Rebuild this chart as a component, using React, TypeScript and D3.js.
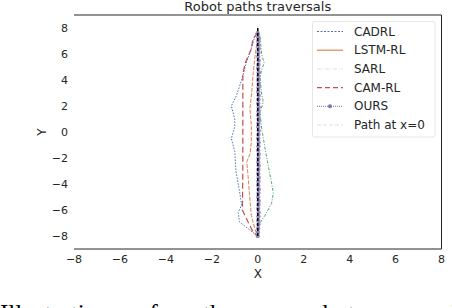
import React from 'react';
import * as d3 from 'd3';

type Pt = [number, number];

const cadrl: Pt[] = [[0, 7.8], [-0.1, 7.5], [-0.3, 6.3], [-0.5, 5.3], [-0.7, 4.0], [-0.95, 2.7], [-1.15, 2.0], [-1.0, 1.0], [-1.0, 0.4], [-1.15, -0.5], [-1.0, -1.5], [-0.95, -3.0], [-0.8, -4.5], [-0.7, -5.6], [-0.85, -6.2], [-0.8, -6.9], [-0.3, -7.6], [0, -8.0]];
const lstmRl: Pt[] = [[0, 7.6], [-0.05, 6.7], [-0.12, 5.8], [-0.2, 4.5], [-0.26, 3.1], [-0.34, 1.8], [-0.28, 0.5], [-0.28, -0.8], [-0.34, -1.7], [-0.48, -2.3], [-0.42, -3.4], [-0.36, -4.8], [-0.28, -6.4], [-0.12, -7.5], [0, -8.0]];
const sarl: Pt[] = [[0, -8.0], [0.02, -7.2], [0.32, -6.4], [0.6, -5.5], [0.68, -4.7], [0.6, -3.9], [0.5, -3.0], [0.32, -1.3], [0.17, 0.3], [0.1, 1.5], [0.24, 2.3], [0.17, 2.9], [0.1, 4.2], [0.17, 4.8], [0.28, 5.3], [0.17, 6.0], [0.1, 7.4], [0, 7.8]];
const camRl: Pt[] = [[0, 7.6], [-0.2, 7.2], [-0.3, 6.3], [-0.55, 5.3], [-0.65, 4.4], [-0.65, 3.5], [-0.65, 0], [-0.65, -3.0], [-0.67, -6.0], [-0.4, -7.0], [-0.2, -7.7], [0, -8.0]];
const ours: Pt[] = [[0, 7.6], [0.02, 7.3], [0.03, 7.0], [0.02, 6.7], [0.04, 6.4], [0.03, 6.1], [0.02, 5.8], [0.04, 5.5], [0.03, 5.2], [0.02, 4.9], [0.04, 4.6], [0.03, 4.3], [0.02, 4.0], [0.04, 3.7], [0.03, 3.4], [0.02, 3.1], [0.04, 2.8], [0.03, 2.5], [0.02, 2.2], [0.04, 1.9], [0.03, 1.6], [0.02, 1.3], [0.04, 1.0], [0.03, 0.7], [0.02, 0.4], [0.04, 0.1], [0.03, -0.2], [0.02, -0.5], [0.04, -0.8], [0.03, -1.1], [0.02, -1.4], [0.04, -1.7], [0.03, -2.0], [0.02, -2.3], [0.04, -2.6], [0.03, -2.9], [0.02, -3.2], [0.04, -3.5], [0.03, -3.8], [0.02, -4.1], [0.04, -4.4], [0.03, -4.7], [0.02, -5.0], [0.04, -5.3], [0.03, -5.6], [0.02, -5.9], [0.04, -6.2], [0.03, -6.5], [0.02, -6.8], [0.03, -7.1], [0.02, -7.4], [0.01, -7.7], [0, -8.0]];
const pathX0: Pt[] = [[0, 8], [0, -8]];

const xTicks = [-8, -6, -4, -2, 0, 2, 4, 6, 8];
const yTicks = [-8, -6, -4, -2, 0, 2, 4, 6, 8];

const legendItems = [
  { label: 'CADRL', color: '#4c72b0', dash: '2,1.5', width: 1, marker: false },
  { label: 'LSTM-RL', color: '#dd8452', dash: '', width: 1.2, marker: false },
  { label: 'SARL', color: '#ececec', dash: '4,1.5,1,1.5', width: 1.5, marker: false },
  { label: 'CAM-RL', color: '#c44e52', dash: '5,3', width: 1.2, marker: false },
  { label: 'OURS', color: '#8172b2', dash: '1,1', width: 1, marker: true },
  { label: 'Path at x=0', color: '#ececec', dash: '4,2', width: 1.5, marker: false },
];

// caption words of the page, only their tops show
const captionWords = ['Illustration', 'of', 'the', 'robot', 'runs', 'during'];
const captionX = [0, 137, 203, 302, 365, 445];

const W = 452;
const H = 308;
const FONT = 'DejaVu Sans, sans-serif';

export default function App() {
  const x = d3.scaleLinear().domain([-8, 8]).range([74, 441.5]);
  const y = d3.scaleLinear().domain([-9, 9]).range([249, 15]);
  const line = d3.line<Pt>().x(d => x(d[0])).y(d => y(d[1]));

  return (
    <svg width={W} height={H} style={{ position: 'absolute', left: 0, top: 0, background: '#fff' }} fontFamily={FONT}>
      {/* title */}
      <text x={(x(-8) + x(8)) / 2} y={11} textAnchor="middle" fontSize={13} fill="#262626">Robot paths traversals</text>

      {/* spines: top, right, bottom */}
      <path d={`M${x(-8)},${y(9)}H${x(8)}V${y(-9)}H${x(-8)}`} fill="none" stroke="#262626" strokeWidth={1} />

      {/* tick labels */}
      {xTicks.map(t => (
        <text key={'x' + t} x={x(t)} y={y(-9) + 14} textAnchor="middle" fontSize={11} fill="#262626">
          {t < 0 ? '\u2212' + Math.abs(t) : t}
        </text>
      ))}
      {yTicks.map(t => (
        <text key={'y' + t} x={68} y={y(t) + 4} textAnchor="end" fontSize={11} fill="#262626">
          {t < 0 ? '\u2212' + Math.abs(t) : t}
        </text>
      ))}
      <text x={(x(-8) + x(8)) / 2} y={278} textAnchor="middle" fontSize={12} fill="#262626">X</text>
      <text transform={`translate(46,${y(0)}) rotate(-90)`} textAnchor="middle" fontSize={12} fill="#262626">Y</text>

      {/* paths */}
      <path d={line(cadrl)!} fill="none" stroke="#4c72b0" strokeWidth={1} strokeDasharray="1.5,1.5" />
      <path d={line(lstmRl)!} fill="none" stroke="#dd8452" strokeWidth={1} strokeDasharray="4,1.5" />
      <path d={line(sarl)!} fill="none" stroke="#55a868" strokeWidth={1} strokeDasharray="3,1.5,1,1.5" />
      <path d={line(camRl)!} fill="none" stroke="#c44e52" strokeWidth={1.2} strokeDasharray="6,3" />
      <path d={line(ours)!} fill="none" stroke="#8172b2" strokeWidth={1} strokeDasharray="1,1" />
      {ours.map((d, i) => (
        <circle key={i} cx={x(d[0])} cy={y(d[1])} r={2.2} fill="#8172b2" opacity={0.8} />
      ))}
      <path d={line(pathX0)!} fill="none" stroke="#000" strokeWidth={1.5} strokeDasharray="3,2" />

      {/* legend */}
      <rect x={312.5} y={21.5} width={122.5} height={115.5} rx={2} fill="#fff" fillOpacity={0.8} stroke="#e6e6e6" strokeWidth={1} />
      {legendItems.map((it, i) => {
        const ly = 31.5 + i * 18.7;
        return (
          <g key={it.label}>
            <line x1={317} x2={343} y1={ly} y2={ly} stroke={it.color} strokeWidth={it.width} strokeDasharray={it.dash || undefined} />
            {it.marker && <circle cx={330} cy={ly} r={2} fill={it.color} />}
            <text x={354} y={ly + 4} fontSize={12} fill="#262626">{it.label}</text>
          </g>
        );
      })}

      {/* caption below the figure, cut off by the frame */}
      <text y={322} fontSize={25} fontFamily="Liberation Serif, serif" fill="#000">
        {captionWords.map((w, i) => (
          <tspan key={w} x={captionX[i]}>{w}</tspan>
        ))}
      </text>
    </svg>
  );
}
